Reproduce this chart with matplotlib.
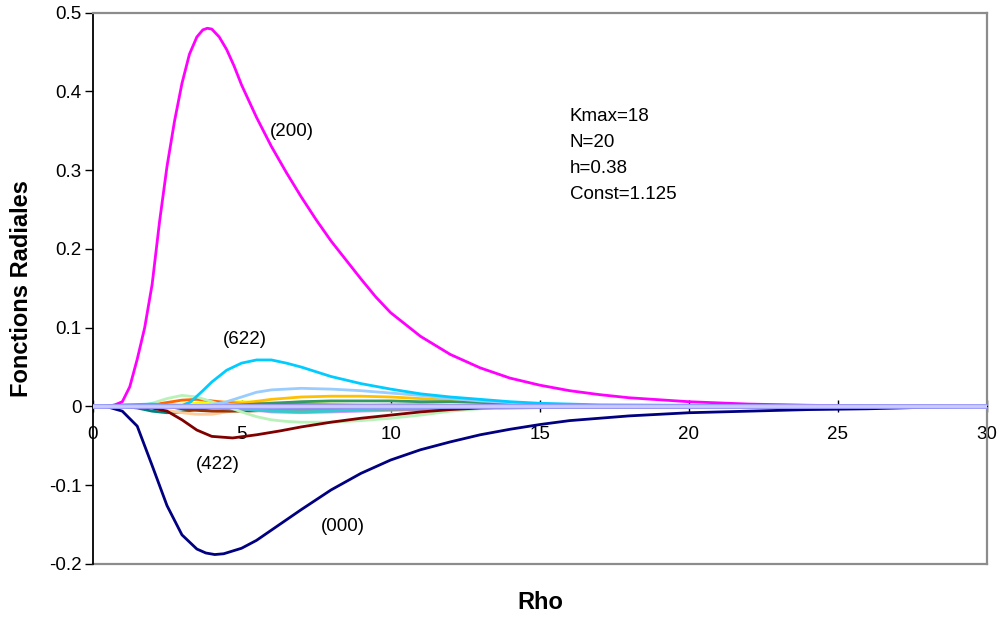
import matplotlib.pyplot as plt

plt.rcParams['font.family'] = ['Liberation Sans', 'DejaVu Sans']
plt.rcParams['axes.unicode_minus'] = False

# radial functions, labelled by (hkl)
rho_200 = [0, 0.5, 0.75, 1.0, 1.25, 1.5, 1.75, 2.0, 2.25, 2.5, 2.75, 3.0, 3.25, 3.5, 3.7, 3.85,
           4.0, 4.25, 4.5, 4.75, 5.0, 5.5, 6.0, 6.5, 7.0, 7.5, 8.0, 9.0, 9.5, 10.0, 11.0, 12.0,
           13.0, 14.0, 15.0, 16.0, 17.0, 18.0, 20.0, 22.0, 24.0, 26.0, 30.0]
f_200 = [0, 0, 0.002, 0.006, 0.025, 0.06, 0.10, 0.155, 0.235, 0.305, 0.362, 0.41, 0.447, 0.469,
         0.478, 0.480, 0.479, 0.469, 0.453, 0.432, 0.408, 0.367, 0.33, 0.297, 0.266, 0.237,
         0.21, 0.162, 0.139, 0.119, 0.089, 0.066, 0.049, 0.036, 0.027, 0.020, 0.015, 0.011,
         0.006, 0.003, 0.0015, 0.0005, 0]

rho_000 = [0, 0.5, 1.0, 1.5, 2.0, 2.5, 3.0, 3.5, 3.8, 4.1, 4.4, 5.0, 5.5, 6.0, 7.0, 8.0, 9.0,
           10.0, 11.0, 12.0, 13.0, 14.0, 15.0, 16.0, 17.0, 18.0, 19.0, 20.0, 22.0, 24.0, 26.0,
           28.0, 30.0]
f_000 = [0, -0.0005, -0.006, -0.025, -0.075, -0.126, -0.163, -0.181, -0.186, -0.188, -0.187,
         -0.180, -0.170, -0.157, -0.131, -0.106, -0.085, -0.068, -0.055, -0.045, -0.036,
         -0.029, -0.023, -0.018, -0.015, -0.012, -0.010, -0.008, -0.006, -0.004, -0.003,
         -0.001, 0]

rho_622 = [0, 1, 2, 2.5, 3, 3.3, 3.7, 4.0, 4.5, 5.0, 5.5, 6.0, 6.5, 7.0, 8.0, 9.0, 10.0, 11, 12,
           13, 14, 15, 17, 30]
f_622 = [0, 0.002, 0.003, 0.002, 0.001, 0.006, 0.02, 0.031, 0.046, 0.055, 0.059, 0.059, 0.055,
         0.05, 0.038, 0.029, 0.022, 0.016, 0.012, 0.009, 0.006, 0.004, 0.002, 0]

rho_422 = [0, 1, 2, 2.5, 3.0, 3.5, 4.0, 4.7, 5.5, 6.3, 7.0, 8.0, 9.0, 10.0, 11, 12, 13, 14, 30]
f_422 = [0, 0, -0.002, -0.006, -0.017, -0.030, -0.038, -0.040, -0.036, -0.031, -0.026, -0.020,
         -0.015, -0.011, -0.007, -0.004, -0.002, -0.001, 0]

rho_lb = [0, 2, 3, 4, 4.5, 5, 5.5, 6, 7, 8, 9, 10, 11, 12, 13, 14, 15, 17, 30]
f_lb = [0, 0.001, 0.001, 0.002, 0.006, 0.012, 0.018, 0.021, 0.023, 0.022, 0.020, 0.017, 0.014,
        0.010, 0.007, 0.005, 0.003, 0.001, 0]

rho_lg = [0, 1.5, 2, 2.5, 3, 3.5, 4, 4.5, 5, 5.5, 6, 6.5, 7, 8, 9, 10, 11, 12, 13, 14, 30]
f_lg = [0, 0, 0.004, 0.010, 0.014, 0.012, 0.006, 0, -0.007, -0.013, -0.017, -0.019, -0.020,
        -0.020, -0.018, -0.015, -0.011, -0.006, -0.003, -0.001, 0]

rho_teal = [0, 1, 1.5, 2, 2.5, 3, 3.5, 4, 5, 6, 8, 30]
f_teal = [0, 0, -0.002, -0.006, -0.008, -0.007, -0.004, -0.002, -0.001, -0.001, 0, 0]

rho_orange = [0, 1.5, 2, 2.5, 3, 3.5, 4, 4.5, 5, 6, 8, 10, 30]
f_orange = [0, 0, 0.002, 0.005, 0.008, 0.009, 0.007, 0.005, 0.004, 0.003, 0.002, 0.001, 0]

rho_yellow = [0, 2, 3, 4, 5, 6, 7, 8, 10, 12, 30]
f_yellow = [0, 0.001, 0.003, 0.005, 0.006, 0.005, 0.004, 0.003, 0.002, 0.001, 0]

rho_gold = [0, 3, 4, 5, 6, 7, 8, 9, 10, 11, 12, 13, 14, 15, 17, 30]
f_gold = [0, 0, 0.001, 0.004, 0.009, 0.012, 0.013, 0.013, 0.012, 0.010, 0.008, 0.006, 0.004,
          0.003, 0.001, 0]

rho_sea = [0, 4, 5, 6, 7, 8, 9, 10, 11, 12, 13, 14, 15, 17, 30]
f_sea = [0, 0, 0.002, 0.004, 0.006, 0.007, 0.007, 0.007, 0.006, 0.006, 0.005, 0.004, 0.003,
         0.001, 0]

rho_green = [0, 5, 7, 9, 11, 13, 15, 30]
f_green = [0, 0, 0.002, 0.002, 0.002, 0.001, 0, 0]

rho_peach = [0, 1.5, 2, 2.5, 3, 3.5, 4, 4.5, 5, 6, 7, 30]
f_peach = [0, 0, -0.002, -0.005, -0.008, -0.010, -0.010, -0.007, -0.004, -0.002, 0, 0]

rho_brown = [0, 2.5, 3, 3.5, 4, 5, 6, 7, 8, 10, 12, 30]
f_brown = [0, 0, -0.003, -0.005, -0.006, -0.006, -0.005, -0.004, -0.003, -0.002, -0.001, 0]

rho_purple = [0, 4, 5, 6, 7, 8, 9, 10, 11, 12, 14, 30]
f_purple = [0, 0, -0.003, -0.007, -0.008, -0.007, -0.006, -0.005, -0.004, -0.003, -0.001, 0]

rho_gray = [0, 3, 4, 5, 6, 8, 10, 12, 14, 16, 30]
f_gray = [0, 0, -0.002, -0.004, -0.005, -0.005, -0.004, -0.003, -0.002, -0.001, 0]

rho_turq = [0, 4, 5, 6, 7, 8, 9, 10, 12, 30]
f_turq = [0, 0, -0.003, -0.006, -0.007, -0.006, -0.004, -0.003, -0.001, 0]

rho_zero = [0, 30]
f_zero = [0, 0]

labels = ['(200)', '(622)', '(422)', '(000)']
label_rho = [6.69, 5.12, 4.21, 8.40]
label_f = [0.349, 0.0855, -0.074, -0.153]

params = ['Kmax=18', 'N=20', 'h=0.38', 'Const=1.125']

yticks = [-0.2, -0.1, 0, 0.1, 0.2, 0.3, 0.4, 0.5]
xticks = [0, 5, 10, 15, 20, 25, 30]

fig = plt.figure(figsize=(10, 6.17), dpi=100)
ax = fig.add_axes([0.0925, 0.0859, 0.8945, 0.8938])

small = [
    (rho_teal, f_teal, '#008080'),
    (rho_peach, f_peach, '#FFCC99'),
    (rho_brown, f_brown, '#993300'),
    (rho_purple, f_purple, '#CC99FF'),
    (rho_gray, f_gray, '#969696'),
    (rho_turq, f_turq, '#33CCCC'),
    (rho_green, f_green, '#00B000'),
    (rho_yellow, f_yellow, '#FFFF00'),
    (rho_orange, f_orange, '#FF6600'),
    (rho_gold, f_gold, '#FFC000'),
    (rho_sea, f_sea, '#339966'),
    (rho_lg, f_lg, '#B8F2B8'),
    (rho_lb, f_lb, '#99CCFF'),
]
for r, f, c in small:
    ax.plot(r, f, color=c, lw=2, solid_joinstyle='round')

for r, f, c in [(rho_422, f_422, '#800000'), (rho_622, f_622, '#00CCFF'),
                (rho_000, f_000, '#000080'), (rho_200, f_200, '#FF00FF')]:
    ax.plot(r, f, color=c, lw=2, solid_joinstyle='round')
ax.plot(rho_zero, f_zero, color='#9999FF', lw=3.5, zorder=4)
ax.plot(rho_zero, f_zero, color='#CCCCFF', lw=2, zorder=4)

for t, x, y in zip(labels, label_rho, label_f):
    ax.text(x, y, t, fontsize=13.5, ha='center', va='center')
for i, t in enumerate(params):
    ax.text(16.0, 0.3685 - i * 0.033, t, fontsize=13.5, ha='left', va='center')

ax.set_xlim(0, 30)
ax.set_ylim(-0.2, 0.5)
ax.set_xticks(xticks)
ax.set_xticklabels([str(v) for v in xticks])
ax.set_yticks(yticks)
ax.set_yticklabels([f'{v:g}' for v in yticks])

ax.spines['bottom'].set_position(('data', 0))
ax.spines['bottom'].set_color('black')
ax.spines['left'].set_color('black')
ax.spines['left'].set_linewidth(1.3)
for s in ['top', 'right']:
    ax.spines[s].set_color('#8C8C8C')
    ax.spines[s].set_linewidth(1.6)
ax.axhline(-0.2, color='#8C8C8C', lw=1.6, clip_on=False)

ax.tick_params(axis='x', direction='inout', length=8, width=1, labelsize=13.5, pad=10)
ax.tick_params(axis='y', direction='out', length=6, width=1, labelsize=13.5, pad=2)

fig.text(0.022, 0.5316, 'Fonctions Radiales', rotation=90, fontsize=17, fontweight='bold',
         ha='center', va='center')
fig.text(0.540, 0.0243, 'Rho', fontsize=17, fontweight='bold', ha='center', va='center')

fig.savefig('out.png', dpi=100)
